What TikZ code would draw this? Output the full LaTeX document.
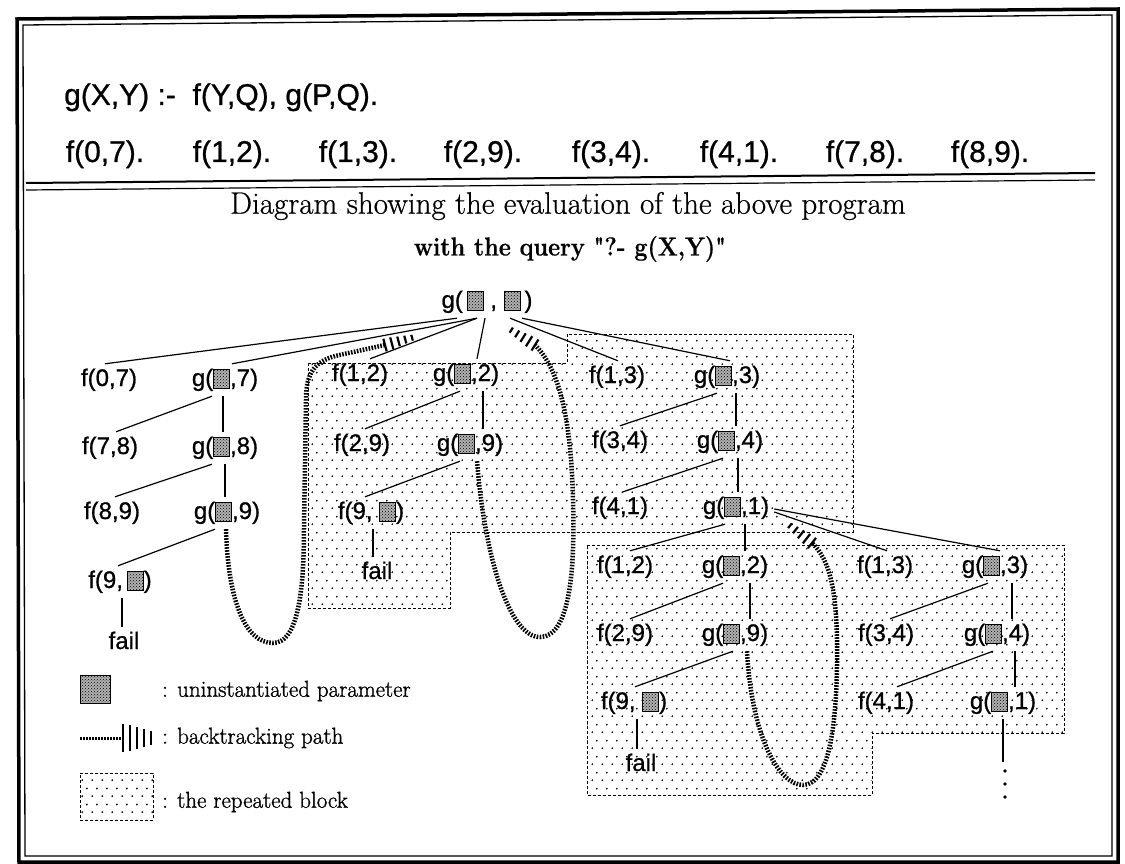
\documentclass[tikz,border=0pt]{standalone}
\usepackage{fontspec}
\usepackage{graphicx}
\newfontfamily\lsans[FakeBold=0.8]{Liberation Sans}
\newfontfamily\serifh[FakeBold=1.2]{Latin Modern Roman}
\newfontfamily\serifb[FakeBold=0.6]{Latin Modern Roman}
\usetikzlibrary{patterns,patterns.meta,calc}
\tikzdeclarepattern{
  name=sparsedots,
  type=uncolored,
  bounding box={(0pt,0pt) and (10pt,16pt)},
  tile size={(10pt,16pt)},
  code={\fill (2.5pt,4pt) circle (1.05pt); \fill (7.5pt,12pt) circle (1.05pt);}
}
\tikzset{ufill/.style={preaction={fill=black!30}, pattern=crosshatch dots}}
\newcommand\ubox{\tikz[baseline=0pt]\draw[line width=0.8pt,ufill] (0pt,-2.5pt) rectangle (16pt,16.5pt);}
\newcommand\btip[3]{%
  \begin{scope}[shift={#1},rotate=#2,yscale=#3]
    \foreach \bu/\bh in {0/6.5,7/6,14/5,21/4,28/3}{\draw[line width=2.2pt] (\bu,-\bh) -- (\bu,\bh);}
  \end{scope}}
\begin{document}
\begin{tikzpicture}[x=1pt,y=-1pt,
  lbl/.style={font=\fontsize{24}{28}\lsans, inner sep=5pt, text height=17pt, text depth=5pt},
  prog/.style={font=\fontsize{30}{34}\lsans, inner sep=0pt},
  conn/.style={line width=1.2pt},
  backpath/.style={line width=4.5pt, dash pattern=on 1.6pt off 1.4pt},
  rblock/.style={draw, dash pattern=on 3pt off 2pt, line width=0.9pt, pattern=sparsedots},
  lgd/.style={font=\fontsize{23}{27}\serifh, inner sep=0pt},
  frameo/.style={line width=3.5pt},
  framei/.style={line width=1.3pt}]
\useasboundingbox (0,0) rectangle (1125,864);
\fill[white] (0,0) rectangle (1125,864);
% frame
\draw[frameo] (17,19) -- (1118,9) -- (1118,862) -- (19,862) -- cycle;
\draw[framei] (23,25) -- (1112,15) -- (1112,856) -- (25,856) -- cycle;
% separator
\draw[line width=2pt] (26,183) -- (1095,173);
\draw[line width=1.2pt] (26,190) -- (1095,180);
% program
\node[prog, anchor=base west] (rule) at (64,105) {g(X,Y) :-\ \ f(Y,Q), g(P,Q).};
\node[prog, anchor=base] (fa1) at (105,162) {f(0,7).};
\node[prog, anchor=base] (fa2) at (232,162) {f(1,2).};
\node[prog, anchor=base] (fa3) at (358,162) {f(1,3).};
\node[prog, anchor=base] (fa4) at (483,162) {f(2,9).};
\node[prog, anchor=base] (fa5) at (611,162) {f(3,4).};
\node[prog, anchor=base] (fa6) at (739,162) {f(4,1).};
\node[prog, anchor=base] (fa7) at (865,162) {f(7,8).};
\node[prog, anchor=base] (fa8) at (990,162) {f(8,9).};
% titles
\node[font=\fontsize{31}{35}\serifb, inner sep=0pt] (title) at (568,206) {Diagram showing the evaluation of the above program};
\node[font=\fontsize{26}{30}\serifb\bfseries, inner sep=0pt] (query) at (570,249) {\scalebox{0.9}[1]{with the query "?- g(X,Y)"}};
% repeated blocks
\path[rblock] (308,363) -- (567,363) -- (567,334) -- (853,334) -- (853,532) -- (450,532) -- (450,608) -- (308,608) -- cycle;
\path[rblock] (587,545) -- (1064,545) -- (1064,733) -- (872,733) -- (872,795) -- (587,795) -- cycle;
% root
\node[lbl] (root) at (487,302) {g(\,\ubox\ ,\ \ubox\,)};
% left column
\node[lbl] (f07) at (109,380) {f(0,7)};
\node[lbl] (g7) at (225,380) {g(\ubox,7)};
\node[lbl] (f78) at (110,448) {f(7,8)};
\node[lbl] (g8) at (225,448) {g(\ubox,8)};
\node[lbl] (f89) at (112,513) {f(8,9)};
\node[lbl] (g9) at (227,513) {g(\ubox,9)};
\node[lbl] (f9a) at (120,582) {f(9,\,\ubox)};
\node[lbl] (faila) at (124,643) {fail};
% middle column
\node[lbl] (f12) at (360,375) {f(1,2)};
\node[lbl] (g2) at (466,375) {g(\ubox,2)};
\node[lbl] (f29) at (362,445) {f(2,9)};
\node[lbl] (g9b) at (470,445) {g(\ubox,9)};
\node[lbl] (f9b) at (371,513) {f(9,\ \ubox)};
\node[lbl] (failb) at (377,573) {fail};
% right top
\node[lbl] (f13) at (617,377) {f(1,3)};
\node[lbl] (g3) at (727,377) {g(\ubox,3)};
\node[lbl] (f34) at (620,442) {f(3,4)};
\node[lbl] (g4) at (730,442) {g(\ubox,4)};
\node[lbl] (f41) at (620,508) {f(4,1)};
\node[lbl] (g1) at (736,508) {g(\ubox,1)};
% block B
\node[lbl] (f12b) at (625,567) {f(1,2)};
\node[lbl] (g2b) at (735,567) {g(\ubox,2)};
\node[lbl] (f29b) at (625,635) {f(2,9)};
\node[lbl] (g9c) at (735,635) {g(\ubox,9)};
\node[lbl] (f9c) at (634,703) {f(9,\ \ubox)};
\node[lbl] (failc) at (641,765) {fail};
\node[lbl] (f13b) at (885,567) {f(1,3)};
\node[lbl] (g3b) at (995,567) {g(\ubox,3)};
\node[lbl] (f34b) at (886,635) {f(3,4)};
\node[lbl] (g4b) at (997,635) {g(\ubox,4)};
\node[lbl] (f41b) at (886,703) {f(4,1)};
\node[lbl] (g1b) at (1003,703) {g(\ubox,1)};
\coordinate (vd) at (1003,762);
\foreach \dy in {771,784,797}{\fill (1005,\dy) circle (1.8);}
% connectors: root
\draw[conn] ([xshift=-30pt]root.south) -- ([xshift=-4pt]f07.north);
\draw[conn] ([xshift=-10pt]root.south) -- ([xshift=7pt]g7.north);
\draw[conn] ([xshift=-10pt]root.south) -- ([xshift=10pt]f12.north);
\draw[conn] ([xshift=-2pt]root.south) -- ([xshift=11pt]g2.north);
\draw[conn] ([xshift=23pt]root.south) -- ([xshift=1pt]f13.north);
\draw[conn] ([xshift=35pt]root.south) -- ([xshift=3pt]g3.north);
% left column
\draw[conn] ([xshift=-13pt]g7.south) -- ([xshift=6pt]f78.north);
\draw[conn] ([xshift=-2pt]g7.south) -- ([xshift=-2pt]g8.north);
\draw[conn] ([xshift=-13pt]g8.south) -- ([xshift=3pt]f89.north);
\draw[conn] (g8.south) -- ([xshift=-2pt]g9.north);
\draw[conn] ([xshift=-12pt]g9.south) -- ([xshift=-2pt]f9a.north);
\draw[conn] ([xshift=2pt]f9a.south) -- ([xshift=-2pt]faila.north);
% middle
\draw[conn] ([xshift=-6pt]g2.south) -- ([xshift=3pt]f29.north);
\draw[conn] ([xshift=17pt]g2.south) -- ([xshift=13pt]g9b.north);
\draw[conn] ([xshift=-10pt]g9b.south) -- ([xshift=-6pt]f9b.north);
\draw[conn] ([xshift=2pt]f9b.south) -- ([xshift=-4pt]failb.north);
% right top
\draw[conn] ([xshift=-10pt]g3.south) -- (f34.north);
\draw[conn] ([xshift=9pt]g3.south) -- ([xshift=6pt]g4.north);
\draw[conn] ([xshift=-7pt]g4.south) -- ([xshift=3pt]f41.north);
\draw[conn] ([xshift=8pt]g4.south) -- ([xshift=2pt]g1.north);
\draw[conn] ([xshift=-11pt]g1.south) -- ([xshift=5pt]f12b.north);
\draw[conn] ([xshift=9pt]g1.south) -- ([xshift=10pt]g2b.north);
\draw[conn] ([yshift=-4pt]g1.east) -- ([xshift=2pt]f13b.north);
\draw[conn] ([yshift=-1pt]g1.east) -- ([xshift=5pt]g3b.north);
% block B
\draw[conn] ([xshift=-12pt]g2b.south) -- ([xshift=5pt]f29b.north);
\draw[conn] ([xshift=15pt]g2b.south) -- ([xshift=15pt]g9c.north);
\draw[conn] ([xshift=-2pt]g9c.south) -- ([xshift=1pt]f9c.north);
\draw[conn] ([xshift=3pt]f9c.south) -- ([xshift=-4pt]failc.north);
\draw[conn] ([xshift=-7pt]g3b.south) -- ([xshift=4pt]f34b.north);
\draw[conn] ([xshift=17pt]g3b.south) -- ([xshift=15pt]g4b.north);
\draw[conn] ([xshift=-4pt]g4b.south) -- ([xshift=11pt]f41b.north);
\draw[conn] ([xshift=18pt]g4b.south) -- ([xshift=12pt]g1b.north);
\draw[conn] (g1b.south) -- (vd);
% backtracking paths
\coordinate (bt1) at (385,345);
\coordinate (bt2) at (535,345);
\coordinate (bt3) at (812,543);
\draw[backpath] ([xshift=-1pt]g9.south) .. controls (228,600) and (245,643) .. (273,643)
  .. controls (296,643) and (304,600) .. (304,527) -- (306,400)
  .. controls (306,372) and (315,362) .. (335,356) -- (bt1);
\btip{(bt1)}{15}{1}
\draw[backpath] ([xshift=7pt]g9b.south) .. controls (485,560) and (510,637) .. (540,637)
  .. controls (570,637) and (575,570) .. (573,500)
  .. controls (571,420) and (560,370) .. (bt2);
\btip{(bt2)}{148}{1}
\draw[backpath] ([xshift=12pt]g9c.south) .. controls (752,740) and (780,785) .. (803,785)
  .. controls (830,785) and (838,720) .. (837,640)
  .. controls (836,590) and (830,560) .. (bt3);
\btip{(bt3)}{142}{1}
% legend
\node[draw, line width=1pt, ufill, minimum width=30pt, minimum height=28pt, inner sep=0pt] (lgbox) at (95,689) {};
\node[lgd, anchor=west] (lgt1) at (162,691) {: uninstantiated parameter};
\coordinate (lga) at (80,738);
\coordinate (lgb) at (123,738);
\draw[backpath, line width=3pt] (lga) -- (lgb);
\btip{(lgb)}{0}{2.2}
\node[lgd, anchor=west] (lgt2) at (162,738) {: backtracking path};
\node[rblock, minimum width=73pt, minimum height=47pt, inner sep=0pt] (lgblk) at (116.5,796.5) {};
\node[lgd, anchor=west] (lgt3) at (162,802) {: the repeated block};
\end{tikzpicture}
\end{document}
